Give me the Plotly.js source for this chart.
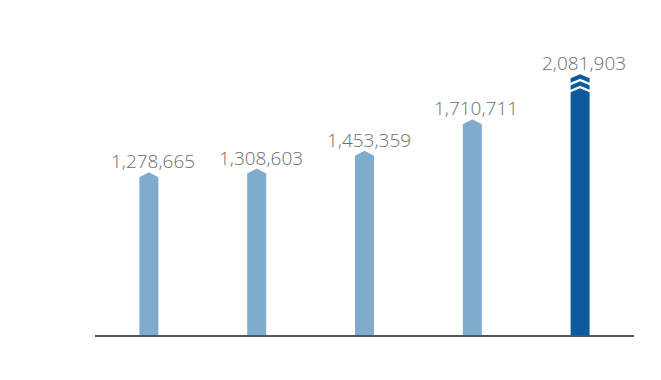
<!DOCTYPE html>
<html>
<head>
<meta charset="utf-8">
<script src="https://cdn.plot.ly/plotly-3.0.1.min.js"></script>
<style>html,body{margin:0;padding:0;background:#fff;}#chart{width:661px;height:380px;}</style>
</head>
<body>
<div id="chart"></div>
<script>
// ---- data ----
var categories = ["Year 1", "Year 2", "Year 3", "Year 4", "Year 5"];
var values = [1278665, 1308603, 1453359, 1710711, 2081903];
var valueLabels = ["1,278,665", "1,308,603", "1,453,359", "1,710,711", "2,081,903"];
var highlightIndex = 4;

// ---- style / geometry ----
var W = 661, H = 380;
var margin = {l: 95, r: 27, t: 10, b: 45};
var plotH = H - margin.t - margin.b;
var plotW = W - margin.l - margin.r;
var yMax = 2650000;
var pxPerUnit = plotH / yMax;
var pxPerCat = plotW / categories.length;
function px(p) { return p / pxPerUnit; }          // pixels -> y data units
var hw = 9.5 / pxPerCat;                           // half bar width in x units
var lightColor = "#7FABCC";
var darkColor = "#0E5A9C";

var traces = [];
function poly(xs, ys, color) {
  traces.push({
    type: "scatter", mode: "lines", x: xs, y: ys, fill: "toself",
    fillcolor: color, line: {width: 0, color: color}, hoverinfo: "skip", showlegend: false
  });
}

values.forEach(function (v, i) {
  var L = i - hw, R = i + hw;
  if (i !== highlightIndex) {
    poly([L, L, i, R, R, L], [0, v + px(1), v + px(6), v + px(1), 0, 0], lightColor);
  } else {
    // body
    poly([L, L, i, R, R, L], [0, v - px(12.5), v - px(8.5), v - px(12.5), 0, 0], darkColor);
    // chevron 2
    poly([L, i, R, R, i, L, L],
         [v - px(5.5), v - px(1.5), v - px(5.5), v - px(10), v - px(6), v - px(10), v - px(5.5)], darkColor);
    // chevron 1
    poly([L, i, R, R, i, L, L],
         [v + px(1.5), v + px(5.5), v + px(1.5), v - px(3), v + px(1), v - px(3), v + px(1.5)], darkColor);
  }
});

var annotations = values.map(function (v, i) {
  return {
    x: i, y: v, xref: "x", yref: "y", text: valueLabels[i], showarrow: false,
    xanchor: "center", yanchor: "bottom", yshift: 2, xshift: 4,
    font: {family: "Open Sans", size: 19, color: "#6E6E6E", weight: 300}
  };
});

var layout = {
  width: W, height: H, margin: margin,
  paper_bgcolor: "#ffffff", plot_bgcolor: "#ffffff",
  showlegend: false,
  xaxis: {
    range: [-0.5, categories.length - 0.5], showgrid: false, zeroline: false,
    showticklabels: false, ticks: "", showline: true, linecolor: "#555555", linewidth: 1.5,
    tickvals: categories.map(function (c, i) { return i; }), ticktext: categories
  },
  yaxis: {
    range: [0, yMax], showgrid: false, zeroline: false, showticklabels: false, ticks: "", showline: false
  },
  annotations: annotations
};

Plotly.newPlot("chart", traces, layout, {staticPlot: true, displayModeBar: false});
</script>
</body>
</html>
